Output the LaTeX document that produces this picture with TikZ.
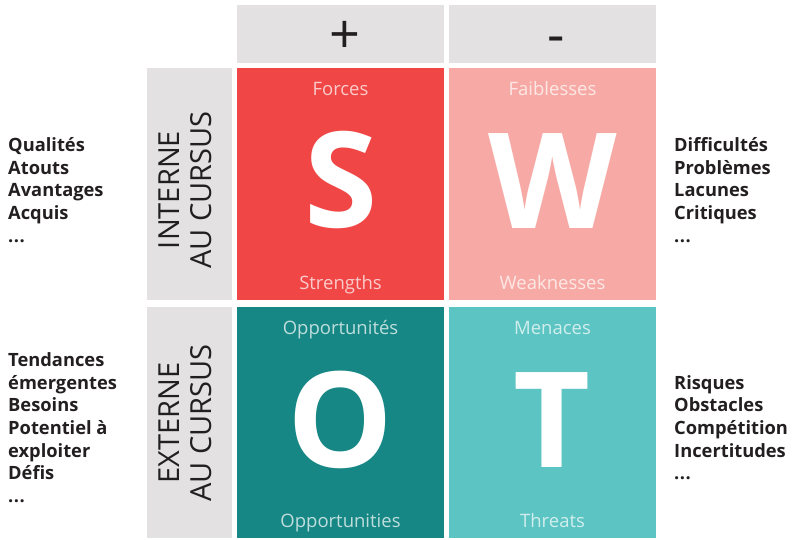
\documentclass[tikz,border=0pt]{standalone}
\usepackage{fontspec}
\setmainfont{Open Sans}
\definecolor{hdrgray}{HTML}{E3E1E2}
\definecolor{sred}{HTML}{F04646}
\definecolor{wpink}{HTML}{F7AAA5}
\definecolor{oteal}{HTML}{168784}
\definecolor{tteal}{HTML}{5CC4C2}
\definecolor{txtdark}{HTML}{231F20}
\tikzset{
  tile/.style={draw=none, inner sep=0pt, minimum width=207pt},
  bigletter/.style={text=white, font=\bfseries\fontsize{133}{133}\selectfont, anchor=base, inner sep=0pt},
  sublabel/.style={text=white, text opacity=0.72, font=\fontsize{18.5}{22}\selectfont, anchor=base, inner sep=0pt},
  sidetxt/.style={text=txtdark, font=\bfseries\fontsize{18.3}{22}\selectfont, anchor=base west, inner sep=0pt},
  rottxt/.style={text=txtdark, font=\fontsize{29}{32.4}\selectfont, rotate=90, align=center, inner sep=0pt},
  signtxt/.style={text=txtdark, font=\fontsize{54}{54}\selectfont, anchor=base, inner sep=0pt}
}
\newcommand{\mydots}{.\kern0.5pt.\kern0.5pt.}
\begin{document}
\begin{tikzpicture}[x=1pt,y=-1pt]
\useasboundingbox (0,0) rectangle (793,539);
% header boxes
\node[tile, fill=hdrgray, minimum height=57.7pt] (hp) at (340.5,34) {};
\node[tile, fill=hdrgray, minimum height=57.7pt] (hm) at (552.5,34) {};
\node[signtxt] (plus) at (344.5,53) {+};
\node[signtxt] (minus) at (556.5,53) {-};
% side boxes
\node[tile, fill=hdrgray, minimum width=85pt, minimum height=232pt] (si) at (189.5,184) {};
\node[tile, fill=hdrgray, minimum width=85pt, minimum height=231pt] (se) at (189.5,422.5) {};
\node[rottxt] (ti) at (185,190) {INTERNE\\AU CURSUS};
\node[rottxt] (te) at (185,423) {EXTERNE\\AU CURSUS};
% tiles
\node[tile, fill=sred, minimum height=232pt] (S) at (340.5,184) {};
\node[tile, fill=wpink, minimum height=232pt] (W) at (552.5,184) {};
\node[tile, fill=oteal, minimum height=231pt] (O) at (340.5,422.5) {};
\node[tile, fill=tteal, minimum height=231pt] (T) at (552.5,422.5) {};
% big letters
\node[bigletter] (Sl) at (341.5,227) {S};
\node[bigletter] (Wl) at (552.5,228) {W};
\node[bigletter] (Ol) at (340.5,467) {O};
\node[bigletter] (Tl) at (552.5,467) {T};
% sub labels
\node[sublabel] (s1) at (340.5,95.3) {Forces};
\node[sublabel] (s2) at (340.5,289.5) {Strengths};
\node[sublabel] (w1) at (552.5,95.3) {Faiblesses};
\node[sublabel] (w2) at (552.5,289.5) {Weaknesses};
\node[sublabel] (o1) at (340.5,334.3) {Opportunités};
\node[sublabel] (o2) at (340.5,527) {Opportunities};
\node[sublabel] (t1) at (552.5,334.3) {Menaces};
\node[sublabel] (t2) at (552.5,527) {Threats};
% side texts, left top
\node[sidetxt] (lt1) at (8,151.7) {Qualités};
\node[sidetxt] (lt2) at (8,174.3) {Atouts};
\node[sidetxt] (lt3) at (8,196.9) {Avantages};
\node[sidetxt] (lt4) at (8,219.5) {Acquis};
\node[sidetxt] (lt5) at (8,242.1) {\mydots};
% left bottom
\node[sidetxt] (lb1) at (8,366.7) {Tendances};
\node[sidetxt] (lb2) at (8,389.3) {émergentes};
\node[sidetxt] (lb3) at (8,411.9) {Besoins};
\node[sidetxt] (lb4) at (8,434.5) {Potentiel à};
\node[sidetxt] (lb5) at (8,457.1) {exploiter};
\node[sidetxt] (lb6) at (8,479.7) {Défis};
\node[sidetxt] (lb7) at (8,502.3) {\mydots};
% right top
\node[sidetxt] (rt1) at (674,151.7) {Difficultés};
\node[sidetxt] (rt2) at (674,174.3) {Problèmes};
\node[sidetxt] (rt3) at (674,196.9) {Lacunes};
\node[sidetxt] (rt4) at (674,219.5) {Critiques};
\node[sidetxt] (rt5) at (674,242.1) {\mydots};
% right bottom
\node[sidetxt] (rb1) at (674,389.3) {Risques};
\node[sidetxt] (rb2) at (674,411.9) {Obstacles};
\node[sidetxt] (rb3) at (674,434.5) {Compétition};
\node[sidetxt] (rb4) at (674,457.1) {Incertitudes};
\node[sidetxt] (rb5) at (674,479.7) {\mydots};
\end{tikzpicture}
\end{document}
